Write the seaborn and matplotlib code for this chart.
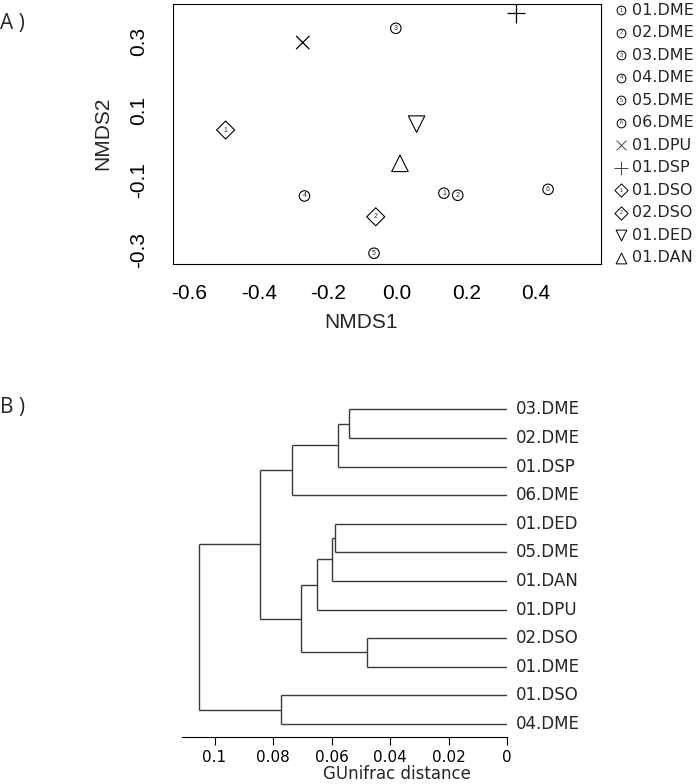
import numpy as np
import pandas as pd
import matplotlib
matplotlib.use("Agg")
import matplotlib.pyplot as plt
import seaborn as sns

# =====================================
# Setup
# =====================================

sns.set_style("white")
plt.rcParams["font.family"] = ["Liberation Sans", "DejaVu Sans"]

W, H = 698, 784

# =====================================
# Data: NMDS ordination (panel A)
# =====================================

sample_names = ["01.DME", "02.DME", "03.DME", "04.DME", "05.DME", "06.DME",
                "01.DPU", "01.DSP", "01.DSO", "02.DSO", "01.DED", "01.DAN"]
sample_shape = ["circle", "circle", "circle", "circle", "circle", "circle",
                "cross", "plus", "diamond", "diamond", "down", "up"]
nmds1 = [0.135, 0.175, -0.004, -0.268, -0.067, 0.436,
         -0.273, 0.343, -0.496, -0.062, 0.056, 0.008]
nmds2 = [-0.137, -0.143, 0.338, -0.145, -0.310, -0.126,
         0.297, 0.381, 0.045, -0.205, 0.062, -0.051]

# =====================================
# Data: GUnifrac clustering (panel B)
# =====================================

leaf_order = ["03.DME", "02.DME", "01.DSP", "06.DME", "01.DED", "05.DME",
              "01.DAN", "01.DPU", "02.DSO", "01.DME", "01.DSO", "04.DME"]
merge_left = ["03.DME", "m0", "m1", "01.DED", "m3", "m4",
              "02.DSO", "m5", "m2", "01.DSO", "m8"]
merge_right = ["02.DME", "01.DSP", "06.DME", "05.DME", "01.DAN", "01.DPU",
               "01.DME", "m6", "m7", "04.DME", "m9"]
merge_height = [0.0539, 0.0577, 0.0737, 0.0589, 0.0599, 0.0651,
                0.0478, 0.0705, 0.0844, 0.0772, 0.1052]

dist_ticks = [0.1, 0.08, 0.06, 0.04, 0.02, 0]
dist_tick_labels = ["0.1", "0.08", "0.06", "0.04", "0.02", "0"]

# =====================================
# Styles
# =====================================

marker_map = {"circle": "o", "diamond": "D", "down": "v", "up": "^",
              "cross": "x", "plus": "+"}
size_map = {"circle": 57, "diamond": 84, "down": 141, "up": 141,
            "cross": 92, "plus": 181}
legend_size_map = {"circle": 40, "diamond": 45, "down": 60, "up": 60,
                   "cross": 50, "plus": 90}
filled_shapes = ["circle", "diamond", "down", "up"]
line_shapes = ["cross", "plus"]


def px_axes(left, top, right, bottom):
    return fig.add_axes([left / W, 1 - bottom / H,
                         (right - left) / W, (bottom - top) / H])


df = pd.DataFrame({
    "name": sample_names,
    "shape": sample_shape,
    "NMDS1": nmds1,
    "NMDS2": nmds2,
})
df["tag"] = [
    str(int(n[:2])) if s in ("circle", "diamond") else ""
    for n, s in zip(df["name"], df["shape"])
]

fig = plt.figure(figsize=(W / 100, H / 100), dpi=100)

# =====================================
# Panel A: NMDS scatter
# =====================================

ax = px_axes(173, 4, 601, 264)

filled = df[df["shape"].isin(filled_shapes)]
sns.scatterplot(
    data=filled, x="NMDS1", y="NMDS2",
    style="shape", markers={k: marker_map[k] for k in filled_shapes},
    size="shape", sizes={k: size_map[k] for k in filled_shapes},
    color="white", edgecolor="black", linewidth=0.8,
    legend=False, ax=ax, zorder=3
)

line_art = df[df["shape"].isin(line_shapes)]
sns.scatterplot(
    data=line_art, x="NMDS1", y="NMDS2",
    style="shape", markers={k: marker_map[k] for k in line_shapes},
    size="shape", sizes={k: size_map[k] for k in line_shapes},
    color="black", linewidth=0.9,
    legend=False, ax=ax, zorder=3
)

for _, row in df[df["tag"] != ""].iterrows():
    ax.text(row["NMDS1"], row["NMDS2"], row["tag"],
            ha="center", va="center", fontsize=5, zorder=4)

ax.set_xlim(-0.648, 0.589)
ax.set_ylim(-0.341, 0.408)

ax.set_xticks([-0.6, -0.4, -0.2, 0.0, 0.2, 0.4])
ax.set_xticklabels(["-0.6", "-0.4", "-0.2", "0.0", "0.2", "0.4"])
y_ticks = [-0.3, -0.2, -0.1, 0.0, 0.1, 0.2, 0.3, 0.4]
ax.set_yticks(y_ticks)
ax.set_yticklabels(["-0.3", "", "-0.1", "", "0.1", "", "0.3", ""],
                   rotation=90, va="center")

ax.tick_params(axis="both", direction="out", length=9, width=0.8,
               labelsize=15, colors="black")
ax.tick_params(axis="x", pad=5.5)
ax.tick_params(axis="y", pad=9)
ax.set_xlabel("")
ax.set_ylabel("")
for sp in ax.spines.values():
    sp.set_visible(True)
    sp.set_color("black")
    sp.set_linewidth(0.8)

fig.text(361.5 / W, 1 - 323 / H, "NMDS1", ha="center", va="center",
         fontsize=15)
fig.text(102.5 / W, 1 - 133 / H, "NMDS2", ha="center", va="center",
         fontsize=15, rotation=90)

# legend drawn in its own axes, one row per sample
axl = px_axes(605, 0, 698, 268)
axl.axis("off")
axl.set_xlim(605, 698)
axl.set_ylim(11 + 10 / 22.5, -10 / 22.5)

for i, (name, shape) in enumerate(zip(sample_names, sample_shape)):
    tag = df["tag"].iloc[i]
    if shape in filled_shapes:
        axl.scatter(621, i, marker=marker_map[shape],
                    s=legend_size_map[shape], facecolor="white",
                    edgecolor="black", linewidth=0.7, clip_on=False)
    else:
        axl.scatter(621, i, marker=marker_map[shape],
                    s=legend_size_map[shape], color="#444444",
                    linewidth=0.7, clip_on=False)
    if tag:
        axl.text(621, i, tag, ha="center", va="center", fontsize=4)
    axl.text(632, i, name, ha="left", va="center", fontsize=11.5,
             family="DejaVu Sans")

fig.text(12.5 / W, 1 - 24 / H, "A )", ha="center", va="center",
         fontsize=15, family="Open Sans")

# =====================================
# Panel B: dendrogram
# =====================================

axb = px_axes(182.3, 395, 507.3, 736.7)

n_leaf = len(leaf_order)
node_y = {name: n_leaf - 1 - i for i, name in enumerate(leaf_order)}
node_h = {name: 0.0 for name in leaf_order}

line_kw = dict(color="#3a3a3a", linewidth=1.0, solid_capstyle="butt")

for k, (a, b, h) in enumerate(zip(merge_left, merge_right, merge_height)):
    for child in (a, b):
        axb.plot([node_h[child], h], [node_y[child], node_y[child]],
                 **line_kw)
    axb.plot([h, h], [node_y[a], node_y[b]], **line_kw)
    node_y[f"m{k}"] = (node_y[a] + node_y[b]) / 2
    node_h[f"m{k}"] = h

for name in leaf_order:
    axb.annotate(name, xy=(0, node_y[name]), xytext=(6.5, 0),
                 textcoords="offset points", ha="left", va="center",
                 fontsize=12, family="DejaVu Sans", annotation_clip=False)

axb.set_xlim(0.111, 0)
axb.set_ylim(-0.444, 11.5)
axb.set_xticks(dist_ticks)
axb.set_xticklabels(dist_tick_labels, family="DejaVu Sans")
axb.set_yticks([])
axb.tick_params(axis="x", direction="out", length=5.8, width=0.8,
                labelsize=11, pad=3.5, colors="black", bottom=True)
for side in ["top", "right", "left"]:
    axb.spines[side].set_visible(False)
axb.spines["bottom"].set_color("black")
axb.spines["bottom"].set_linewidth(0.8)

fig.text(397 / W, 1 - 774 / H, "GUnifrac distance", ha="center",
         va="center", fontsize=12, family="DejaVu Sans")
fig.text(12.5 / W, 1 - 408 / H, "B )", ha="center", va="center",
         fontsize=15, family="Open Sans")

fig.savefig("out.png", dpi=100)
